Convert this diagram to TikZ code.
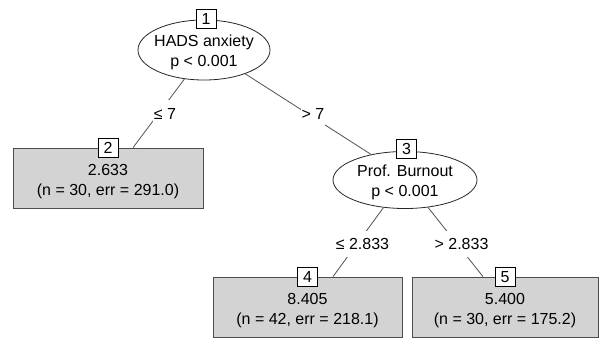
\documentclass[tikz,border=0pt]{standalone}
\usepackage{fontspec}
\setmainfont{Liberation Sans}
\usetikzlibrary{shapes.geometric}
\definecolor{leafgray}{RGB}{211,211,211}
\definecolor{edgegray}{RGB}{80,80,80}
\begin{document}
\begin{tikzpicture}[x=1pt,y=-1pt,
  font=\fontsize{16}{20}\selectfont,
  splitnode/.style={ellipse, draw=black!85, fill=white, line width=0.8pt,
    inner sep=0pt, align=center},
  leafnode/.style={rectangle, draw=black!70, fill=leafgray, line width=0.8pt,
    minimum width=190pt, minimum height=60pt, inner sep=0pt, align=center},
  idbox/.style={rectangle, draw=black, fill=white, line width=0.7pt,
    minimum width=20pt, minimum height=19pt, inner sep=0pt},
  edgelab/.style={fill=white, inner xsep=1pt, inner ysep=7.5pt,
    text height=11.5pt, text depth=0pt},
  conn/.style={draw=edgegray, line width=0.8pt}]
\path[use as bounding box] (0,0) rectangle (599,338);

% inner nodes
\node[splitnode, minimum width=132pt, minimum height=60pt] (n1) at (204,50)
  {\rule{0pt}{17pt}\makebox[0pt]{HADS anxiety}\\\makebox[0pt]{p < 0.001}};
\node[splitnode, minimum width=144pt, minimum height=57pt] (n3) at (405,180)
  {\rule{0pt}{17pt}\makebox[0pt]{Prof. Burnout}\\\makebox[0pt]{p < 0.001}};

% leaves
\node[leafnode] (n2) at (108,178)
  {\rule{0pt}{19pt}2.633\\(n = 30, err = 291.0)};
\node[leafnode, minimum width=189pt] (n4) at (307.5,307)
  {\rule{0pt}{19pt}8.405\\(n = 42, err = 218.1)};
\node[leafnode, minimum width=186pt] (n5) at (505,307)
  {\rule{0pt}{19pt}5.400\\(n = 30, err = 175.2)};

% connectors
\draw[conn] (n1.236) -- ([xshift=25pt]n2.north);
\draw[conn] (n1.330) -- (n3.143);
\draw[conn] (n3.232) -- ([xshift=25.5pt]n4.north);
\draw[conn] (n3.310) -- ([xshift=-22pt]n5.north);

% edge labels
\node[edgelab] (l12) at (165,113.5) {≤ 7};
\node[edgelab] (l13) at (313,113.5) {> 7};
\node[edgelab] (l34) at (362.5,244) {≤ 2.833};
\node[edgelab] (l35) at (461.5,244) {> 2.833};

% id boxes
\node[idbox] (b1) at ([xshift=2pt,yshift=1pt]n1.north) {1};
\node[idbox] (b2) at (n2.north) {2};
\node[idbox] (b3) at ([xshift=1.5pt,yshift=2.5pt]n3.north) {3};
\node[idbox] (b4) at (n4.north) {4};
\node[idbox] (b5) at (n5.north) {5};
\end{tikzpicture}
\end{document}
